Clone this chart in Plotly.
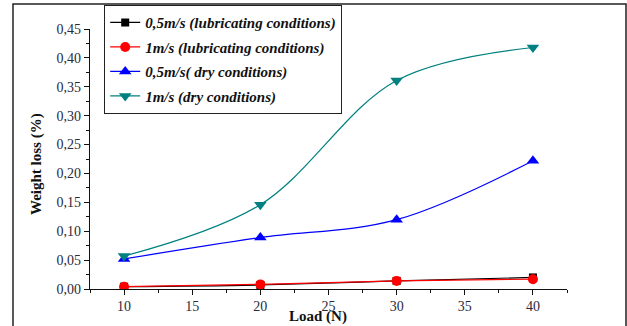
import plotly.graph_objects as go

loads = [10, 20, 30, 40]
lub_05 = [0.004, 0.007, 0.014, 0.020]
lub_1 = [0.004, 0.008, 0.014, 0.017]
dry_05 = [0.052, 0.089, 0.120, 0.222]
dry_1 = [0.057, 0.146, 0.361, 0.418]

names = ["0,5m/s (lubricating conditions)", "1m/s (lubricating conditions)",
         "0,5m/s( dry conditions)", "1m/s (dry conditions)"]
series = [lub_05, lub_1, dry_05, dry_1]
colors = ["#000000", "#FF0000", "#0000FF", "#008080"]
symbols = ["square", "circle", "triangle-up", "triangle-down"]
sizes = [8, 10, 11, 11]

SERIF = "Liberation Serif, Times New Roman, serif"

fig = go.Figure()
for i, (nm, ys, c, s, sz) in enumerate(zip(names, series, colors, symbols, sizes)):
    fig.add_trace(go.Scatter(
        x=loads, y=ys, name=nm, mode="lines+markers",
        line=dict(color=c, width=1.2, shape="spline", smoothing=1.0),
        marker=dict(color=c, symbol=s, size=sz, line=dict(width=0)),
        legendgroup=f"g{i}",
    ))

L, R, T, B = 90, 60, 29, 37
W, H = 627, 326
pw, ph = W - L - R, H - T - B

def px(x):
    return (x - L) / pw

def py(y):
    return (H - B - y) / ph

fig.update_layout(
    width=W, height=H,
    margin=dict(l=L, r=R, t=T, b=B, autoexpand=False),
    paper_bgcolor="white", plot_bgcolor="white",
    separators=", ",
    showlegend=True,
    legend=dict(
        x=px(104), y=py(5), xanchor="left", yanchor="top",
        bordercolor="#222222", borderwidth=1.2, bgcolor="white",
        font=dict(family=SERIF, size=15, color="#111111", weight="bold", style="italic"),
        itemwidth=30, traceorder="grouped", tracegroupgap=2,
    ),
    xaxis=dict(
        range=[7.5, 42.5], tick0=10, dtick=5, showgrid=False, zeroline=False,
        showline=True, linecolor="#111111", linewidth=1.2,
        ticks="outside", ticklen=5, tickcolor="#111111", tickwidth=1.2,
        minor=dict(dtick=2.5, ticks="outside", ticklen=3, tickcolor="#111111", tickwidth=1),
        tickfont=dict(family=SERIF, size=14, color="#2a2a3a"),
        ticklabelstandoff=-1,
        automargin=False,
    ),
    yaxis=dict(
        range=[0, 0.45], dtick=0.05, tickformat=".2f", showgrid=False, zeroline=False,
        showline=True, linecolor="#111111", linewidth=1.2,
        ticks="outside", ticklen=5, tickcolor="#111111", tickwidth=1.2,
        minor=dict(dtick=0.025, ticks="outside", ticklen=3, tickcolor="#111111", tickwidth=1),
        tickfont=dict(family=SERIF, size=14, color="#2a2a3a"),
        automargin=False,
    ),
    annotations=[
        dict(text="<b>Load (N)</b>", xref="paper", yref="paper", x=px(318), y=py(326),
             xanchor="center", yanchor="bottom", showarrow=False, borderpad=0,
             font=dict(family=SERIF, size=15, color="#111111")),
        dict(text="<b>Weight loss (%)</b>", xref="paper", yref="paper", x=px(37), y=py(164),
             xanchor="center", yanchor="middle", showarrow=False, textangle=-90,
             font=dict(family=SERIF, size=15, color="#111111")),
    ],
    shapes=[
        dict(type="rect", xref="paper", yref="paper",
             x0=px(13), x1=px(626), y0=py(340), y1=py(4),
             line=dict(color="#222222", width=1.5), fillcolor="rgba(0,0,0,0)", layer="below"),
    ],
)

fig.write_html("out.html", config={"displayModeBar": False},
               post_script="document.body.style.margin='0';document.body.style.overflow='hidden';")
